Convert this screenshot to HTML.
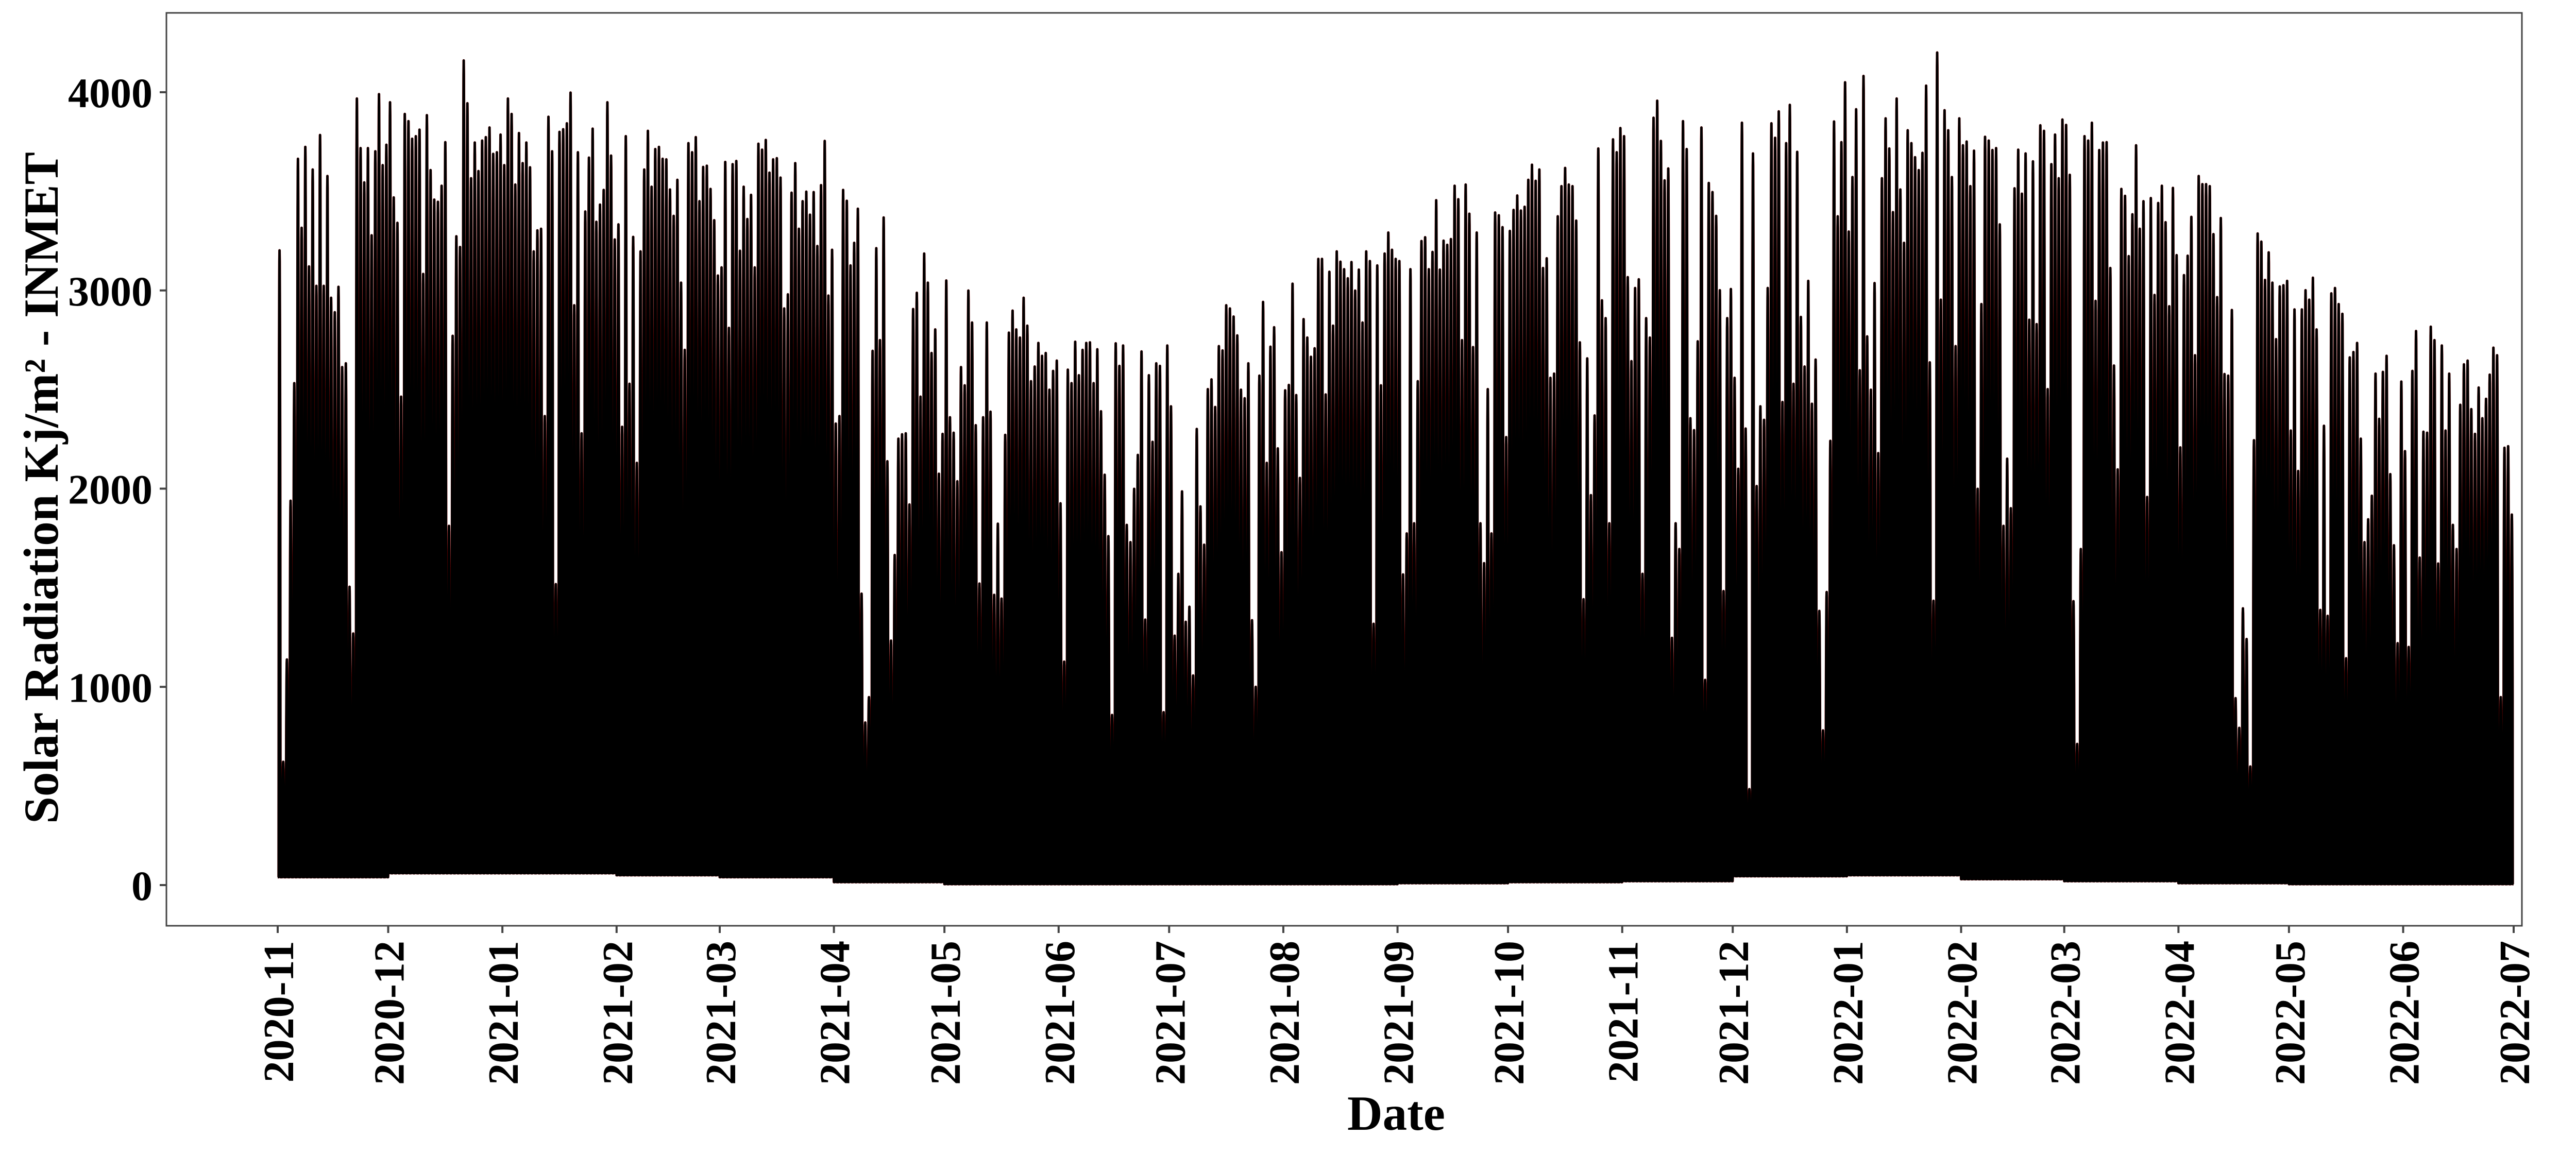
<!DOCTYPE html>
<html>
<head>
<meta charset="utf-8">
<style>
html,body{margin:0;padding:0;background:#fff;}
svg{display:block;}
text{font-family:"Liberation Serif","Times New Roman",serif;font-weight:bold;fill:#000;}
</style>
</head>
<body>
<svg id="chart" width="5120" height="2240" viewBox="0 0 5120 2240" xmlns="http://www.w3.org/2000/svg">
  <rect x="0" y="0" width="5120" height="2240" fill="#fff"/>
  <g id="series"></g>
  <rect x="323" y="25" width="4572" height="1772" fill="none" stroke="#444" stroke-width="3"/>
  <g id="yaxis"></g>
  <g id="xaxis"></g>
  <text x="2710" y="2193" font-size="95" text-anchor="middle">Date</text>
  <text transform="translate(112,947) rotate(-90)" font-size="95" text-anchor="middle">Solar Radiation Kj/m² - INMET</text>
</svg>
<script>
// Daily peak radiation (Kj/m²), one value per day from 2020-11-01
const dailyPeaks = [
3202,622,1138,1939,2532,3664,3316,3724,3121,3610,3023,3784,3023,3577,2963,2890,3018,2613,2632,1505,
1269,3968,3718,3545,3718,3278,3702,3990,3632,3735,3949,3469,3341,2464,3890,3854,3765,3778,3811,3083,
3884,3607,3458,3447,3528,3748,1812,2771,3273,3219,4160,3944,3566,3746,3602,3756,3773,3822,3689,3697,
3786,3632,3968,3890,3534,3794,3642,3746,3621,3197,3303,3311,2366,3876,3702,1518,3800,3813,3843,3998,
2925,3697,2279,3398,3670,3816,3346,3433,3507,3949,3680,3257,3333,2312,3778,2529,3270,2130,3197,3610,
3805,3523,3713,3724,3664,3661,3509,3376,3558,3039,2700,3743,3697,3773,3450,3623,3629,3512,3354,3075,
3116,3648,2811,3637,3653,3200,3523,3360,3482,3116,3740,3710,3759,3594,3661,3667,3569,2909,2980,3493,
3642,3311,3450,3498,3382,3496,3224,3531,3754,2974,3205,2328,2366,3507,3452,3126,3240,3412,1470,820,
948,2695,3213,2749,3368,2138,1233,1665,2252,2274,2279,1920,2906,2988,2464,3186,3039,2684,2803,2075,
2276,3050,2360,2282,2037,2613,2521,2999,2838,2320,1521,2360,2838,2388,1464,1823,1445,2271,2787,2898,
2803,2762,2963,2822,2542,2616,2735,2670,2684,2499,2594,2646,1926,1127,2600,2532,2741,2572,2700,2735,
2738,2532,2703,2390,2070,1760,858,2733,2619,2722,1817,1730,1999,2170,2692,1339,2572,2236,2632,2619,
872,2722,2415,1258,1570,1986,1328,1404,1057,2301,1910,1717,2502,2551,2412,2719,2697,2925,2909,2868,
2773,2499,2456,2632,1336,1000,2570,2942,2130,2716,2814,2203,1679,2496,2523,3034,2472,2054,2855,2762,
2665,2708,3159,3159,2475,3094,2822,3197,3145,3107,3061,3143,2999,3105,2838,3197,3148,1318,3126,2521,
3186,3292,3205,3159,3148,1567,1774,3107,1825,2542,3249,3268,3107,3194,3455,3105,3251,3230,3259,3528,
3460,2749,3534,3387,2714,3292,1825,1624,2502,1774,3393,3379,3319,2260,3300,3406,3479,3403,3422,3558,
3634,3553,3610,3113,3162,2559,2580,3374,3526,3618,3534,3526,3352,2738,1442,2657,1967,2369,3716,2950,
2860,1825,3762,3697,3819,3778,3067,2643,3012,3056,1570,2860,2762,3871,3957,3754,3555,3615,1247,1825,
1695,3854,3713,2355,2295,2743,3822,1035,3542,3496,3376,3001,1483,2860,3007,2559,2100,3846,2303,484,
3691,2013,2415,2347,3012,3843,3770,3903,2437,3743,3936,2529,3699,2866,2616,3048,2428,2651,1383,780,
1478,2241,3852,3374,3748,4050,3297,3572,3914,2597,4082,2768,2499,3037,2179,3566,3868,3716,3395,3968,
3509,3240,3808,3743,3672,3607,3694,4033,2637,1434,4200,2953,3909,3808,3572,2719,3868,3732,3751,3526,
3705,1999,2931,3775,3756,3708,3718,3333,1812,2151,1901,3515,3710,3488,3691,2852,3651,2830,3833,3805,
2502,3637,3786,3566,3862,3835,3583,1432,712,1695,3778,3756,3846,2947,3708,3746,3748,3113,2621,2097,
3512,3477,3173,3384,3732,3311,3450,1958,3466,2977,3441,3528,3344,2920,3517,3178,2208,3077,3175,3371,
2673,3577,3536,3536,3526,3284,2966,3365,2578,2570,2901,943,793,1396,1241,598,2244,3287,3246,3053,
3192,3039,2754,3020,3026,3048,2293,2904,2089,2904,3001,2953,3064,2803,1388,2317,1358,2985,3012,2931,
2882,1144,2662,2689,2735,2252,1730,1845,1964,2580,2352,2589,2670,2073,1714,1220,2540,2189,1201,2594,
2795,1652,2287,2282,2817,2749,1622,2722,2293,2580,1817,1695,2423,2627,2646,2401,2276,2510,2355,2453,
2575,2711,2673,948,2206,2214,1869
];
// Monthly night-time floor (Kj/m²), Nov 2020 .. Jun 2022
const nightFloor = [40,60,60,50,40,15,5,5,5,5,10,15,20,45,50,30,20,10,5,5];
// Y ticks
const yTicks = [0,1000,2000,3000,4000];
// X tick labels (month starts)
const monthLabels = ["2020-11","2020-12","2021-01","2021-02","2021-03","2021-04","2021-05","2021-06","2021-07","2021-08","2021-09","2021-10","2021-11","2021-12","2022-01","2022-02","2022-03","2022-04","2022-05","2022-06","2022-07"];

const NS = "http://www.w3.org/2000/svg";
const startMs = Date.UTC(2020,10,1);
const DAY = 86400000;
const X0 = 539, X1 = 4879, D1 = 607;
const Y0 = 1718, Y4 = 179;
function xScale(days){ return X0 + (X1 - X0) * days / D1; }
function yScale(v){ return Y0 + (Y4 - Y0) * v / 4000; }
function monthIndexOfDay(d){
  const dt = new Date(startMs + d*DAY);
  return (dt.getUTCFullYear()-2020)*12 + dt.getUTCMonth() - 10;
}

let pts = [];
for (let d = 0; d < dailyPeaks.length; d++) {
  const mi = Math.max(0, Math.min(nightFloor.length-1, monthIndexOfDay(d)));
  const fl = nightFloor[mi];
  const pk = dailyPeaks[d];
  for (let h = 0; h < 24; h++) {
    let v = fl;
    if (h > 6 && h < 18) {
      const s = Math.sin(Math.PI * (h - 6) / 12);
      v = fl + (pk - fl) * Math.sqrt(s);
    }
    pts.push(xScale(d + h/24).toFixed(2) + "," + yScale(v).toFixed(1));
  }
}
const series = document.getElementById("series");
const dStr = "M" + pts.join("L");
const redLine = document.createElementNS(NS, "path");
redLine.setAttribute("d", dStr);
redLine.setAttribute("fill", "none");
redLine.setAttribute("stroke", "#d00000");
redLine.setAttribute("stroke-width", "5");
redLine.setAttribute("stroke-linejoin", "round");


series.appendChild(redLine);
const blackLine = document.createElementNS(NS, "path");
blackLine.setAttribute("d", dStr);
blackLine.setAttribute("fill", "none");
blackLine.setAttribute("stroke", "#000");
blackLine.setAttribute("stroke-width", "4.6");
blackLine.setAttribute("stroke-linejoin", "round");


series.appendChild(blackLine);

const yaxis = document.getElementById("yaxis");
yTicks.forEach(v => {
  const y = yScale(v);
  const t = document.createElementNS(NS, "line");
  t.setAttribute("x1", 310); t.setAttribute("x2", 323);
  t.setAttribute("y1", y); t.setAttribute("y2", y);
  t.setAttribute("stroke", "#444"); t.setAttribute("stroke-width", "4");
  
  
  yaxis.appendChild(t);
  const lb = document.createElementNS(NS, "text");
  lb.setAttribute("x", 296); lb.setAttribute("y", y + 29);
  lb.setAttribute("font-size", "82"); lb.setAttribute("text-anchor", "end");
  lb.textContent = v;
  
  
  yaxis.appendChild(lb);
});

const xaxis = document.getElementById("xaxis");
monthLabels.forEach(lbl => {
  const parts = lbl.split("-");
  const days = (Date.UTC(+parts[0], +parts[1]-1, 1) - startMs) / DAY;
  const x = xScale(days);
  const t = document.createElementNS(NS, "line");
  t.setAttribute("x1", x); t.setAttribute("x2", x);
  t.setAttribute("y1", 1797); t.setAttribute("y2", 1811);
  t.setAttribute("stroke", "#444"); t.setAttribute("stroke-width", "4");
  
  
  xaxis.appendChild(t);
  const tx = document.createElementNS(NS, "text");
  tx.setAttribute("transform", "translate(" + (x + 30) + ",1826) rotate(-90)");
  tx.setAttribute("font-size", "84"); tx.setAttribute("text-anchor", "end");
  tx.textContent = lbl;
  
  
  xaxis.appendChild(tx);
});
</script>
</body>
</html>
